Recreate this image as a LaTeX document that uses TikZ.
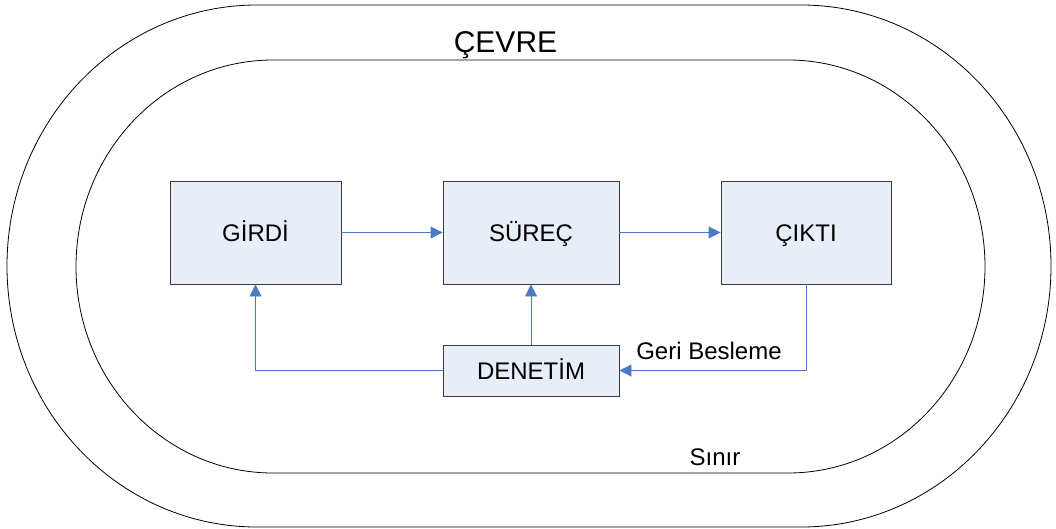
\documentclass[tikz,border=0pt]{standalone}
\usepackage{fontspec}
\setmainfont{Liberation Sans}
\usetikzlibrary{arrows.meta}
\definecolor{boxfill}{HTML}{E7EEF8}
\definecolor{boxline}{HTML}{3C3C3C}
\definecolor{flow}{HTML}{4A7BC4}
\tikzset{
  stagebox/.style={draw=boxline, fill=boxfill, line width=0.9pt, inner sep=0pt,
    font=\fontsize{24}{28}\selectfont, text height=17.2pt, text depth=0pt},
  flowline/.style={draw=flow, line width=0.9pt, -{Triangle[length=12pt,width=12pt]}},
  ring/.style={draw=black, line width=0.8pt},
  tag/.style={font=\fontsize{24}{28}\selectfont, anchor=base, inner sep=0pt}
}
\begin{document}
\begin{tikzpicture}[x=1pt, y=-1pt]
\useasboundingbox (0,0) rectangle (1056,528);

% environment and system boundary
\draw[ring] (257,527) -- (801,527)
  arc[start angle=-90, end angle=90, x radius=250pt, y radius=261pt]
  -- (257,5)
  arc[start angle=90, end angle=270, x radius=250pt, y radius=261pt] -- cycle;
\draw[ring] (273,473) -- (788,473)
  arc[start angle=-90, end angle=90, x radius=197pt, y radius=206.5pt]
  -- (273,60)
  arc[start angle=90, end angle=270, x radius=197pt, y radius=206.5pt] -- cycle;

\node[tag, font=\fontsize{30}{34}\selectfont] (cevre) at (505.5,52) {ÇEVRE};
\node[tag] (sinir) at (715,465.7) {Sınır};

% system stages
\node[stagebox, minimum width=171pt, minimum height=103pt] (girdi) at (255.5,232.5) {GİRDİ};
\node[stagebox, minimum width=176pt, minimum height=103pt] (surec) at (531,232.5) {SÜREÇ};
\node[stagebox, minimum width=170pt, minimum height=103pt] (cikti) at (806,232.5) {ÇIKTI};
\node[stagebox, minimum width=176pt, minimum height=51pt] (denetim) at (531,370.5) {DENETİM};

% flows
\draw[flowline] (girdi) -- (surec);
\draw[flowline] (surec) -- (cikti);
\draw[flowline] (denetim.west) -| (girdi.south);
\draw[flowline] (denetim.north) -- (surec.south);
\draw[flowline] (cikti.south) |- (denetim.east);
\node[tag] (geri) at (709,359.3) {Geri Besleme};
\end{tikzpicture}
\end{document}
